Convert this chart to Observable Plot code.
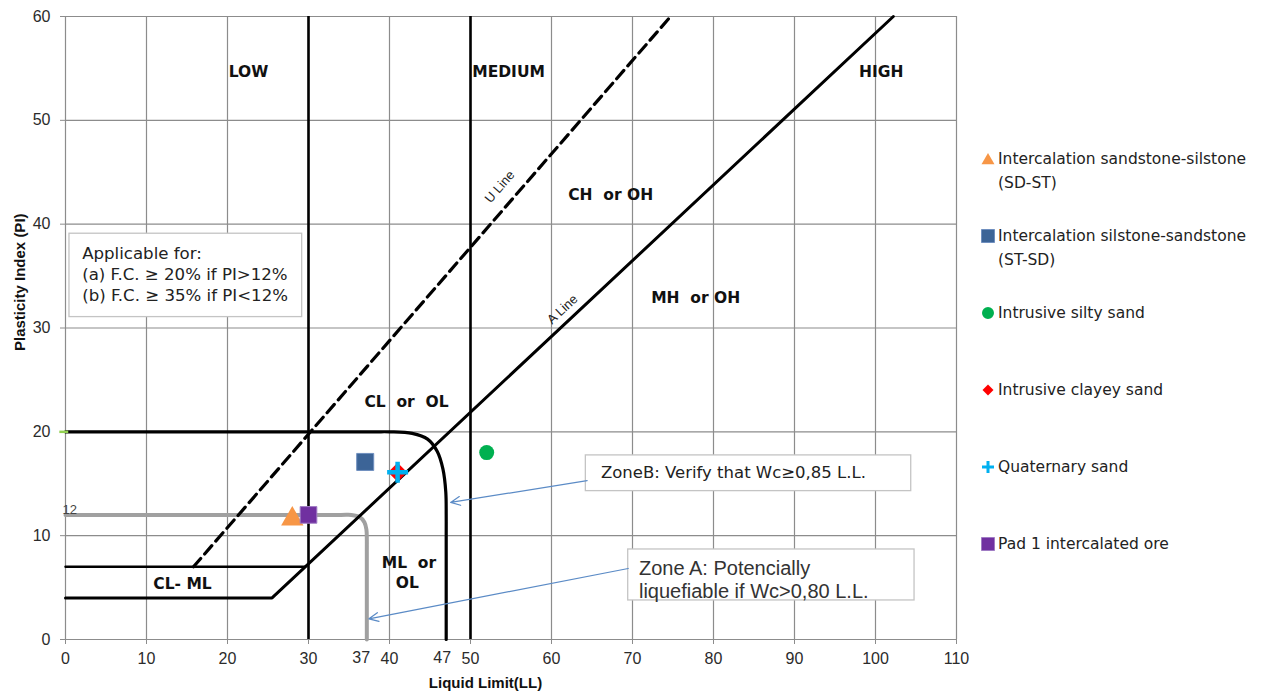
<!DOCTYPE html>
<html>
<head>
<meta charset="utf-8">
<script src="https://cdn.jsdelivr.net/npm/d3@7"></script>
<script src="https://cdn.jsdelivr.net/npm/@observablehq/plot@0.6"></script>
<style>
  body { margin: 0; background: #fff; }
  #chart { position: relative; width: 1261px; height: 698px; overflow: hidden; }
  #chart > svg { position: absolute; left: 0; top: 0; }
  .legend-item { position: absolute; left: 998px; font-family: "DejaVu Sans", sans-serif; font-size: 15.5px; color: #222; line-height: 24px; white-space: nowrap; }
  #chart > svg.legend-swatch { position: absolute; left: 980px; width: 16px; height: 16px; overflow: visible; }
</style>
</head>
<body>
<div id="chart"></div>
<script>
// Axis ticks
const xTicks = [0, 10, 20, 30, 40, 50, 60, 70, 80, 90, 100, 110];
const xExtraTicks = [37, 47];
const yTicks = [0, 10, 20, 30, 40, 50, 60];

// Classification boundaries (LL, PI)
const aLinePath = [[0, 4], [25.5, 4], [102.2, 60]];
const clmlUpper = [[0, 7], [29.6, 7]];
const uLinePath = [[15.8, 7], [74.7, 60]];
const plasticityBounds = [30, 50];
const zoneBPath = [[0, 20], [38, 20], [40, 20], [42.8, 19.85], [44.7, 19.3], [45.9, 18.1], [46.6, 16.4], [46.95, 14.2], [47, 12], [47, 10], [47, 0]];
const zoneAPath = [[0, 12], [34, 12], [35.3, 12], [36.3, 11.8], [36.9, 11.3], [37.15, 10.6], [37.2, 9.6], [37.2, 8.5], [37.2, 0]];

// Region labels
const regionText = ["LOW", "MEDIUM", "HIGH", "CH  or OH", "MH  or OH", "CL  or  OL", "ML  or", "OL", "CL- ML"];
const regionLL = [22.6, 54.7, 100.7, 67.3, 77.8, 42.1, 42.4, 42.2, 14.45];
const regionPI = [54.7, 54.7, 54.7, 42.8, 32.9, 22.9, 7.4, 5.4, 5.3];

// Samples
const seriesNames = [
  "Intercalation sandstone-silstone\n(SD-ST)",
  "Intercalation silstone-sandstone\n(ST-SD)",
  "Intrusive silty sand",
  "Intrusive clayey sand",
  "Quaternary sand",
  "Pad 1 intercalated ore"
];
const seriesLL = [28, 37, 52, 41, 41, 30];
const seriesPI = [11.9, 17.1, 18, 16.1, 16.1, 12];

// Marker styles per series
const seriesColor = ["#F79646", "#3C6497", "#00B050", "#FF0000", "#00B0F0", "#7030A0"];
const seriesEdge = ["none", "#6F8FBF", "none", "none", "none", "#A07CC4"];
const seriesSymbol = ["triangle", "square", "circle", "diamond2", "plus", "square"];
const markerR = [8.3, 9.6, 7.5, 8.6, 6.8, 9.4];
const legendSize = [73, 169, 113, 77, 49, 169];
const d3Symbols = { triangle: d3.symbolTriangle, square: d3.symbolSquare, circle: d3.symbolCircle, diamond2: d3.symbolDiamond2, plus: d3.symbolPlus };

// Notes and callouts
const noteApplicable = "Applicable for:\n(a) F.C. \u2265 20% if PI>12%\n(b) F.C. \u2265 35% if PI<12%";
const noteZoneB = "ZoneB: Verify that Wc\u22650,85 L.L.";
const noteZoneA = "Zone A: Potencially\nliquefiable if Wc>0,80 L.L.";
const boxes = [
  { x1: 0.49, x2: 29.22, y1: 31.05, y2: 39.08 },
  { x1: 64.24, x2: 104.41, y1: 14.29, y2: 17.73 },
  { x1: 69.47, x2: 104.82, y1: 3.76, y2: 8.67 }
];
const callouts = [
  { x1: 64.4, y1: 15.3, x2: 47.55, y2: 13.2 },
  { x1: 69.47, y1: 6.84, x2: 37.46, y2: 1.99 }
];

const points = seriesNames.map((name, i) => ({ name, LL: seriesLL[i], PI: seriesPI[i] }));
const regions = regionText.map((t, i) => ({ t, LL: regionLL[i], PI: regionPI[i] }));
const xy = { x: d => d[0], y: d => d[1] };

const gothic = "'DejaVu Sans', sans-serif";
const gridStyle = { stroke: "#8c8c8c", strokeOpacity: 1, strokeWidth: 1.2 };

const dotMarks = points.map((p, i) => {
  const plus = seriesSymbol[i] === "plus";
  return Plot.dot([p], {
    x: "LL", y: "PI",
    symbol: seriesSymbol[i],
    r: markerR[i],
    fill: plus ? "none" : seriesColor[i],
    stroke: plus ? seriesColor[i] : seriesEdge[i],
    strokeWidth: plus ? 4.5 : 1,
    dy: seriesSymbol[i] === "triangle" ? 3 : 0
  });
});

const chart = Plot.plot({
  width: 1261,
  height: 698,
  marginLeft: 65,
  marginRight: 305,
  marginTop: 16,
  marginBottom: 59,
  x: { domain: [0, 110] },
  y: { domain: [0, 60] },
  style: { fontFamily: "'Liberation Sans', Arial, sans-serif", fontSize: "16px", color: "#2b2b2b", background: "transparent", overflow: "visible" },
  marks: [
    Plot.gridX(xTicks, gridStyle),
    Plot.gridY(yTicks, gridStyle),
    Plot.axisX(xTicks, { tickSize: 5, tickPadding: 8, stroke: "#8c8c8c", fill: "#2b2b2b", label: null, fontSize: 16 }),
    Plot.axisX(xExtraTicks, { tickSize: 0, tickPadding: 12, fill: "#2b2b2b", label: null, fontSize: 16, dx: -4 }),
    Plot.axisY(yTicks, { tickSize: 5, tickPadding: 10, stroke: "#8c8c8c", fill: "#2b2b2b", label: null, fontSize: 16 }),

    // Callout boxes
    Plot.rect(boxes, { x1: "x1", x2: "x2", y1: "y1", y2: "y2", fill: "#fff", stroke: "#c4c4c4", strokeWidth: 1.3 }),

    // Liquefaction zones
    Plot.line(zoneAPath, { ...xy, curve: "catmull-rom", stroke: "#a0a0a0", strokeWidth: 4, strokeLinejoin: "round" }),
    Plot.line(zoneBPath, { ...xy, curve: "catmull-rom", stroke: "#000", strokeWidth: 3.2, strokeLinejoin: "round" }),

    // Plasticity chart boundaries
    Plot.ruleX(plasticityBounds, { y1: 0, y2: 60, stroke: "#000", strokeWidth: 2.6 }),
    Plot.line(aLinePath, { ...xy, stroke: "#000", strokeWidth: 3 }),
    Plot.line(clmlUpper, { ...xy, stroke: "#000", strokeWidth: 2.4 }),
    Plot.line(uLinePath, { ...xy, stroke: "#000", strokeWidth: 3.2, strokeDasharray: "11 6" }),
    Plot.ruleY([20], { x1: -0.7, x2: 0.4, stroke: "#92D050", strokeWidth: 2.5 }),

    // Line labels
    Plot.text(["U Line"], { x: 53.6, y: 43.6, rotate: -49, fontSize: 13, fill: "#222" }),
    Plot.text(["A Line"], { x: 61.35, y: 31.8, rotate: -43, fontSize: 13, fill: "#222" }),
    Plot.text(["12"], { x: 0, y: 12, textAnchor: "start", dx: -3, dy: -5, fontSize: 13, fill: "#444" }),

    // Region labels
    Plot.text(regions, { x: "LL", y: "PI", text: "t", fontFamily: gothic, fontWeight: "bold", fontSize: 15.5, fill: "#111" }),

    // Notes
    Plot.text([noteApplicable], { x: 2.06, y: 35.3, textAnchor: "start", lineHeight: 1.26, fontFamily: gothic, fontSize: 16.6, fill: "#222" }),
    Plot.text([noteZoneB], { x: 66.1, y: 16.1, textAnchor: "start", fontFamily: gothic, fontSize: 16.5, fill: "#222" }),
    Plot.text([noteZoneA], { x: 70.8, y: 5.85, textAnchor: "start", lineHeight: 1.17, fontSize: 20, fill: "#333" }),
    Plot.arrow(callouts, { x1: "x1", y1: "y1", x2: "x2", y2: "y2", stroke: "#5B8BC6", strokeWidth: 1.2, headLength: 13, headAngle: 50 }),

    // Samples
    ...dotMarks,

    // Axis titles
    Plot.text(["Plasticity Index (PI)"], { frameAnchor: "left", dx: -45, dy: 23, rotate: -90, fontWeight: "bold", fontSize: 15, fill: "#111" }),
    Plot.text(["Liquid Limit(LL)"], { frameAnchor: "bottom", dx: -25.5, dy: 48, fontWeight: "bold", fontSize: 15, fill: "#111" })
  ]
});

const root = document.getElementById("chart");
root.appendChild(chart);

// Legend
seriesNames.forEach((name, i) => {
  const cy = 159 + i * 77;
  const sw = document.createElementNS("http://www.w3.org/2000/svg", "svg");
  sw.setAttribute("class", "legend-swatch");
  sw.setAttribute("viewBox", "-8 -8 16 16");
  sw.style.left = "980px";
  sw.style.top = (cy - 8) + "px";
  const path = document.createElementNS("http://www.w3.org/2000/svg", "path");
  const plus = seriesSymbol[i] === "plus";
  path.setAttribute("d", d3.symbol(d3Symbols[seriesSymbol[i]], legendSize[i])());
  if (seriesSymbol[i] === "triangle") path.setAttribute("transform", "translate(0,1.5)");
  path.setAttribute("fill", plus ? "none" : seriesColor[i]);
  path.setAttribute("stroke", plus ? seriesColor[i] : (seriesEdge[i] === "none" ? "none" : seriesEdge[i]));
  path.setAttribute("stroke-width", plus ? 3 : 1);
  sw.appendChild(path);
  root.appendChild(sw);

  const label = document.createElement("div");
  label.className = "legend-item";
  label.style.top = (cy - 12) + "px";
  name.split("\n").forEach((line, j) => {
    if (j) label.appendChild(document.createElement("br"));
    label.appendChild(document.createTextNode(line));
  });
  root.appendChild(label);
});
</script>
</body>
</html>
